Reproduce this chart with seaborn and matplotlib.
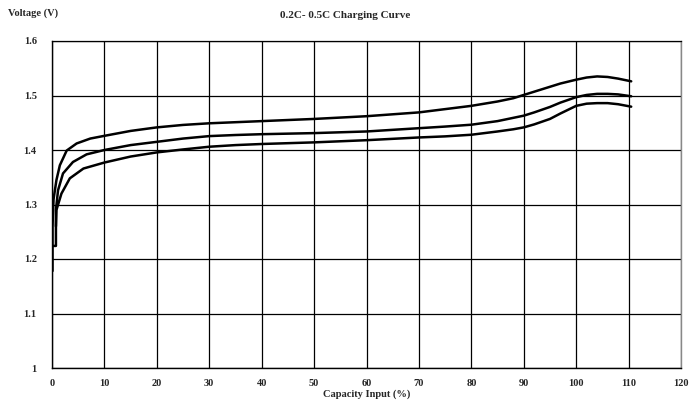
import matplotlib
matplotlib.use("Agg")
import matplotlib.pyplot as plt
import seaborn as sns
import pandas as pd

sns.set_style("white")
plt.rcParams['font.family'] = ['Liberation Serif', 'DejaVu Serif']

# Capacity input (%) and voltage (V) for three charge rates
x_top = [0.1, 0.1, 0.3, 0.85, 1.5, 2.8, 4.7, 7.3, 10, 15, 20, 25, 30, 35, 40, 50,
         60, 70, 75, 80, 85, 88, 90, 92, 95, 97, 100, 102, 104, 106, 108, 110.5]
v_top = [1.178, 1.26, 1.31, 1.345, 1.372, 1.399, 1.412, 1.421, 1.426, 1.435, 1.4415,
         1.446, 1.449, 1.451, 1.453, 1.457, 1.462, 1.469, 1.475, 1.481, 1.489,
         1.495, 1.501, 1.507, 1.516, 1.522, 1.529, 1.533, 1.535, 1.534, 1.531, 1.526]

x_mid = [0.1, 0.75, 0.75, 1.15, 2.1, 4.0, 6.6, 10, 15, 20, 25, 30, 35, 40, 50,
         60, 70, 75, 80, 85, 88, 90, 92, 95, 97, 100, 102, 104, 106, 108, 110.5]
v_mid = [1.224, 1.224, 1.29, 1.326, 1.357, 1.378, 1.392, 1.40, 1.409, 1.415,
         1.421, 1.4255, 1.4275, 1.429, 1.431, 1.434, 1.440, 1.443, 1.4464, 1.453,
         1.459, 1.463, 1.469, 1.479, 1.487, 1.497, 1.501, 1.503, 1.503, 1.502,
         1.4986]

x_low = [0.75, 0.85, 1.8, 3.4, 6, 10, 15, 20, 25, 30, 35, 40, 50, 60, 70, 75, 80,
         85, 88, 90, 92, 95, 97, 100, 102, 104, 106, 108, 110.5]
v_low = [1.26, 1.29, 1.32, 1.348, 1.366, 1.377, 1.388, 1.3956, 1.401, 1.406,
         1.409, 1.411, 1.414, 1.418, 1.423, 1.425, 1.428, 1.434, 1.438, 1.4415,
         1.447, 1.457, 1.467, 1.481, 1.485, 1.486, 1.486, 1.484, 1.4795]

x_ticks = [0, 10, 20, 30, 40, 50, 60, 70, 80, 90, 100, 110, 120]
y_ticks = [1.0, 1.1, 1.2, 1.3, 1.4, 1.5, 1.6]
y_tick_labels = ["1", "1.1", "1.2", "1.3", "1.4", "1.5", "1.6"]

fig = plt.figure(figsize=(6.89, 4.04), dpi=100)
ax = fig.add_axes([52/689, 1-368/404, 629/689, 327/404])

for xs, vs, name in [(x_top, v_top, "0.5C"), (x_mid, v_mid, "0.3C"), (x_low, v_low, "0.2C")]:
    df = pd.DataFrame({"x": xs, "v": vs})
    sns.lineplot(data=df, x="x", y="v", sort=False, estimator=None, ax=ax,
                 color="black", linewidth=1.8, zorder=3)

ax.set_xlim(0, 120)
ax.set_ylim(1.0, 1.6)
ax.set_xticks(x_ticks)
ax.set_yticks(y_ticks)
ax.set_yticklabels(y_tick_labels)
ax.grid(True, color="black", linewidth=0.9)
ax.set_axisbelow(True)
for side in ["left", "bottom"]:
    ax.spines[side].set_color("black")
    ax.spines[side].set_linewidth(1.0)
ax.spines["top"].set_color("black")
ax.spines["top"].set_linewidth(0.9)
ax.spines["right"].set_color("#888888")
ax.spines["right"].set_linewidth(1.0)

ax.tick_params(axis="both", length=0, labelsize=7.5)
ax.tick_params(axis="x", pad=8)
ax.tick_params(axis="y", pad=11)
for lab in ax.get_xticklabels() + ax.get_yticklabels():
    lab.set_fontweight("bold")

ax.set_xlabel("Capacity Input (%)", fontsize=7.5, fontweight="bold", labelpad=1)
ax.set_ylabel("")
fig.text(8/689, 1-13/404, "Voltage (V)", fontsize=7.5, fontweight="bold",
         ha="left", va="center")
fig.text(345/689, 1-15/404, "0.2C- 0.5C Charging Curve", fontsize=8, fontweight="bold",
         ha="center", va="center")

fig.savefig("out.png", dpi=100)
